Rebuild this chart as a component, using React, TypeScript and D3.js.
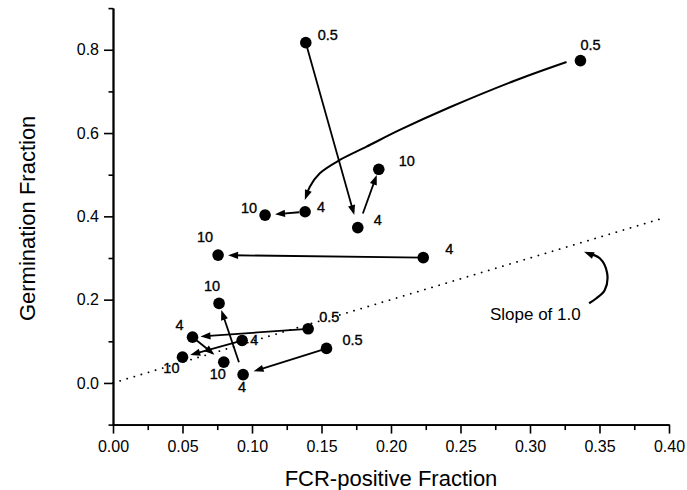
import React, { useEffect, useRef } from "react";
import * as d3 from "d3";

// dose label of each dot, its FCR-positive fraction and germination fraction
const doseLabels = ["0.5", "4", "10", "0.5", "4", "10", "4", "10", "0.5", "4", "10", "4", "10", "0.5", "4", "10"];
const fcrFraction = [0.1387, 0.1761, 0.1912, 0.3363, 0.1382, 0.1094, 0.2232, 0.0756, 0.1404, 0.0572, 0.0797, 0.0929, 0.05, 0.1536, 0.0936, 0.0763];
const germFraction = [0.817, 0.373, 0.513, 0.774, 0.411, 0.403, 0.301, 0.307, 0.13, 0.11, 0.05, 0.102, 0.062, 0.083, 0.02, 0.191];

// straight arrows, by dot index
const arrowFrom = [0, 1, 4, 6, 8, 9, 11, 13, 14];
const arrowTo = [1, 2, 5, 7, 9, 10, 12, 14, 15];

// the curved arrow from dot 3 to dot 4 (fcr, germ)
const curveFcr = [0.3263, 0.2903, 0.2423, 0.2063, 0.1824, 0.1632, 0.1488, 0.1416, 0.138];
const curveGerm = [0.7707, 0.7275, 0.6619, 0.6074, 0.5673, 0.5354, 0.5035, 0.4713, 0.4394];

// small curved arrow pointing at the slope line
const slopeArrowFcr = [0.3425, 0.3478, 0.3538, 0.3555, 0.3502, 0.3389];
const slopeArrowGerm = [0.1914, 0.2034, 0.2233, 0.2634, 0.2994, 0.3152];

const xTicks = [0, 0.05, 0.1, 0.15, 0.2, 0.25, 0.3, 0.35, 0.4];
const xMinorTicks = [0.025, 0.075, 0.125, 0.175, 0.225, 0.275, 0.325, 0.375];
const yTicks = [0, 0.2, 0.4, 0.6, 0.8];
const yMinorTicks = [-0.1, 0.1, 0.3, 0.5, 0.7, 0.9];

// label placement next to each dot: dx, dy (px) and anchor
const labelDx = [12, 16, 20, 0, 12, -8, 22, -5, 11, -9, -6, 8, -3, 16, -1, -7];
const labelDy = [-3, -2.5, -3, -11, 0, -2, -4, -13, -7, -7, 17, 4.5, 16, -3, 17, -12];
const labelAnchor = ["start", "start", "start", "start", "start", "end", "start", "end", "start", "end", "middle", "start", "end", "start", "middle", "middle"];
// gaps (px) left free at the start / end of each straight arrow
const startGap = [0, 15, 6, 0, 0, 3, 3, 3, 13];
const endGap = [13, 6, 10, 10, 8, 12, 8, 11, 7];

export default function App() {
  const svgRef = useRef<SVGSVGElement>(null);

  useEffect(() => {
    const width = 687;
    const height = 490;
    const font = "'Liberation Sans', Arial, Helvetica, sans-serif";
    const svg = d3.select(svgRef.current)
      .attr("width", width)
      .attr("height", height);

    svg.selectAll("*").remove();

    const x = d3.scaleLinear().domain([0, 0.4]).range([113, 669]);
    const y = d3.scaleLinear().domain([-0.1, 0.9]).range([424.6, 8.1]);

    const styleAxis = (g: any) => {
      g.attr("font-family", font).attr("font-size", 16);
      g.selectAll(".domain").attr("stroke", "#000").attr("stroke-width", 1.8);
      g.selectAll(".tick line").attr("stroke", "#000").attr("stroke-width", 1.6);
      g.selectAll(".tick text").attr("fill", "#000");
    };

    // x axis
    svg.append("g")
      .attr("transform", `translate(0,${y(-0.1)})`)
      .call(d3.axisBottom(x).tickValues(xMinorTicks).tickSize(5.5).tickSizeOuter(0).tickFormat(() => ""))
      .call(styleAxis);
    svg.append("g")
      .attr("transform", `translate(0,${y(-0.1)})`)
      .call(d3.axisBottom(x).tickValues(xTicks).tickSize(9).tickPadding(7).tickSizeOuter(0).tickFormat(d3.format(".2f")))
      .call(styleAxis);

    // y axis
    svg.append("g")
      .attr("transform", `translate(${x(0)},0)`)
      .call(d3.axisLeft(y).tickValues(yMinorTicks).tickSize(4.5).tickSizeOuter(0).tickFormat(() => ""))
      .call(styleAxis);
    svg.append("g")
      .attr("transform", `translate(${x(0)},0)`)
      .call(d3.axisLeft(y).tickValues(yTicks).tickSize(9).tickPadding(5).tickSizeOuter(0).tickFormat(d3.format(".1f")))
      .call(styleAxis);

    // axis titles
    svg.append("text")
      .attr("x", (x(0) + x(0.4)) / 2)
      .attr("y", 486)
      .attr("text-anchor", "middle")
      .attr("font-family", font)
      .attr("font-size", 22)
      .text("FCR-positive Fraction");
    svg.append("text")
      .attr("transform", `translate(35,${(y(-0.1) + y(0.9)) / 2 + 2}) rotate(-90)`)
      .attr("text-anchor", "middle")
      .attr("font-family", font)
      .attr("font-size", 22)
      .text("Germination Fraction");

    // dotted line of slope 1
    svg.append("line")
      .attr("x1", x(0)).attr("y1", y(0))
      .attr("x2", x(0.396)).attr("y2", y(0.396))
      .attr("stroke", "#000")
      .attr("stroke-width", 1.8)
      .attr("stroke-linecap", "round")
      .attr("stroke-dasharray", "0.1 7.3");

    const head = (tx: number, ty: number, ux: number, uy: number) => {
      const len = 10, half = 3.6;
      const bx = tx - ux * len, by = ty - uy * len;
      return `M${tx},${ty}L${bx - uy * half},${by + ux * half}L${bx + uy * half},${by - ux * half}Z`;
    };

    // straight arrows
    arrowFrom.forEach((from, i) => {
      const to = arrowTo[i];
      const x1 = x(fcrFraction[from]), y1 = y(germFraction[from]);
      const x2 = x(fcrFraction[to]), y2 = y(germFraction[to]);
      const d = Math.hypot(x2 - x1, y2 - y1);
      const ux = (x2 - x1) / d, uy = (y2 - y1) / d;
      const sx = x1 + ux * startGap[i], sy = y1 + uy * startGap[i];
      const tx = x2 - ux * endGap[i], ty = y2 - uy * endGap[i];
      svg.append("line")
        .attr("x1", sx).attr("y1", sy)
        .attr("x2", tx - ux * 5).attr("y2", ty - uy * 5)
        .attr("stroke", "#000")
        .attr("stroke-width", 1.8);
      svg.append("path").attr("d", head(tx, ty, ux, uy)).attr("fill", "#000");
    });

    // curved arrows
    const curved = (fx: number[], gy: number[], sw: number) => {
      const pts: [number, number][] = fx.map((v, i) => [x(v), y(gy[i])]);
      const n = pts.length;
      const [tx, ty] = pts[n - 1];
      const [px, py] = pts[n - 2];
      const d = Math.hypot(tx - px, ty - py);
      const ux = (tx - px) / d, uy = (ty - py) / d;
      const linePts = pts.slice(0, n - 1).concat([[tx - ux * 5, ty - uy * 5]]);
      svg.append("path")
        .attr("d", d3.line().curve(d3.curveCatmullRom)(linePts))
        .attr("fill", "none")
        .attr("stroke", "#000")
        .attr("stroke-width", sw);
      svg.append("path").attr("d", head(tx, ty, ux, uy)).attr("fill", "#000");
    };
    curved(curveFcr, curveGerm, 2);
    curved(slopeArrowFcr, slopeArrowGerm, 2.2);

    svg.append("text")
      .attr("x", x(0.2712))
      .attr("y", y(0.152))
      .attr("font-family", font)
      .attr("font-size", 17)
      .text("Slope of 1.0");

    // dots
    svg.append("g")
      .selectAll("circle")
      .data(doseLabels)
      .join("circle")
      .attr("cx", (_, i) => x(fcrFraction[i]))
      .attr("cy", (_, i) => y(germFraction[i]))
      .attr("r", 5.8)
      .attr("fill", "#000");

    // dose labels
    svg.append("g")
      .selectAll("text")
      .data(doseLabels)
      .join("text")
      .attr("x", (_, i) => x(fcrFraction[i]) + labelDx[i])
      .attr("y", (_, i) => y(germFraction[i]) + labelDy[i])
      .attr("text-anchor", (_, i) => labelAnchor[i])
      .attr("font-family", font)
      .attr("font-size", 14.5)
      .attr("stroke", "#000")
      .attr("stroke-width", 0.35)
      .text(d => d);
  }, []);

  return (
    <svg ref={svgRef} style={{ position: "absolute", left: 0, top: 0, background: "#fff" }} />
  );
}
